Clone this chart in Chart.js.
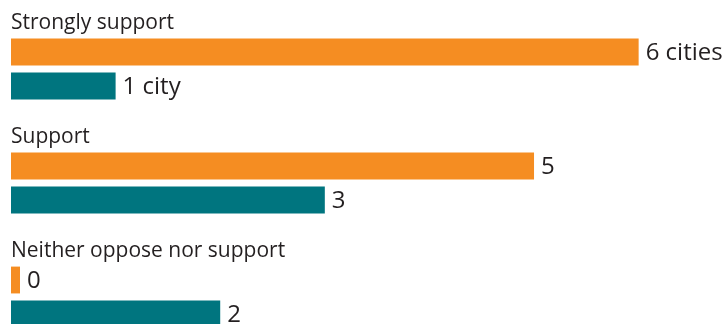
<!DOCTYPE html>
<html>
<head>
<meta charset="utf-8">
<script src="https://cdn.jsdelivr.net/npm/chart.js@4/dist/chart.umd.min.js"></script>
<style>
    html, body { margin: 0; padding: 0; background: #fff; overflow: hidden; }
    #chart { display: block; }
</style>
</head>
<body>
<canvas id="chart" width="725" height="360"></canvas>
<script>
const categories = ["Strongly support", "Support", "Neither oppose nor support"];
const orangeValues = [6, 5, 0];
const tealValues = [1, 3, 2];
const orangeLabels = ["6 cities", "5", "0"];
const tealLabels = ["1 city", "3", "2"];

const ORANGE = "#f58d22";
const TEAL = "#00757f";
const TEXT = "#231f20";
const CATEGORY_FONT = "21px 'Open Sans', Lato, sans-serif";
const VALUE_FONT = "24px 'Open Sans', Lato, sans-serif";

// category names above each pair of bars, value text at the bar end
const barText = {
    id: "barText",
    afterDatasetsDraw(chart) {
        const ctx = chart.ctx;
        ctx.save();
        ctx.fillStyle = TEXT;
        ctx.textAlign = "left";

        ctx.font = CATEGORY_FONT;
        ctx.textBaseline = "alphabetic";
        chart.getDatasetMeta(0).data.forEach((bar, i) => {
            ctx.fillText(categories[i], chart.chartArea.left, bar.y - bar.height / 2 - 10);
        });

        ctx.font = VALUE_FONT;
        ctx.textBaseline = "middle";
        chart.data.datasets.forEach((ds, d) => {
            chart.getDatasetMeta(d).data.forEach((bar, i) => {
                ctx.fillText(ds.valueLabels[i], bar.x + 7, bar.y + 1);
            });
        });
        ctx.restore();
    },
};

new Chart(document.getElementById("chart"), {
    type: "bar",
    data: {
        labels: categories,
        datasets: [
            {
                label: "Orange",
                data: orangeValues,
                valueLabels: orangeLabels,
                backgroundColor: ORANGE,
                minBarLength: 9,
            },
            {
                label: "Teal",
                data: tealValues,
                valueLabels: tealLabels,
                backgroundColor: TEAL,
            },
        ],
    },
    options: {
        indexAxis: "y",
        responsive: false,
        animation: false,
        categoryPercentage: 0.596,
        barPercentage: 0.79,
        layout: {
            padding: { left: 11, top: 12, right: 10, bottom: 6 },
        },
        scales: {
            x: { display: false, min: 0, max: 6.73 },
            y: { display: false },
        },
        plugins: {
            legend: { display: false },
            tooltip: { enabled: false },
        },
    },
    plugins: [barText],
});
</script>
</body>
</html>
